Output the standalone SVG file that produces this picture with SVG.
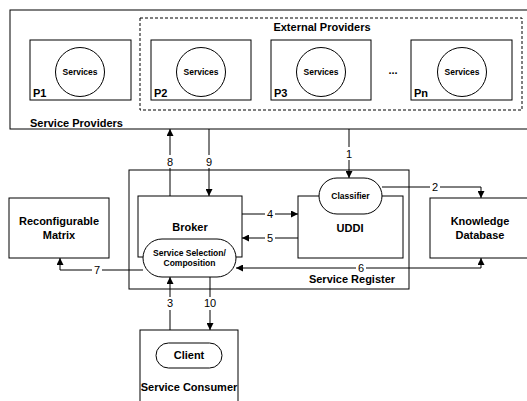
<svg xmlns="http://www.w3.org/2000/svg" width="527" height="401" viewBox="0 0 527 401">
<style>
.box{fill:#fff;stroke:#000;stroke-width:1}
.dash{fill:none;stroke:#000;stroke-width:1;stroke-dasharray:3,2}
.t{font-family:"Liberation Sans",Arial,sans-serif;font-weight:bold;font-size:11px;fill:#000}
.s{font-family:"Liberation Sans",Arial,sans-serif;font-weight:bold;font-size:8.5px;fill:#000}
.n{font-family:"Liberation Sans",Arial,sans-serif;font-size:11px;fill:#000}
.c{text-anchor:middle}
.ln{fill:none;stroke:#000;stroke-width:1}
.lbg{fill:#fff}
</style>
<defs>
<marker id="ah" viewBox="0 0 10 10" refX="10" refY="5" markerWidth="7" markerHeight="7" markerUnits="userSpaceOnUse" orient="auto-start-reverse">
<path d="M0,0 L10,5 L0,10 z" fill="#000"/>
</marker>
</defs>

<g id="service-providers">
<rect class="box" x="10" y="10" width="530" height="119"/>
<text class="t" x="30" y="127">Service Providers</text>
</g>
<g id="external-providers">
<rect class="dash" x="140" y="18" width="382" height="92"/>
<text class="t c" x="322" y="31">External Providers</text>
<text class="t c" x="393" y="74">...</text>
</g>
<g id="p1">
<rect class="box" x="30" y="40" width="101" height="60"/>
<circle class="box" cx="80" cy="72" r="24.5"/>
<text class="s c" x="80" y="75">Services</text>
<text class="t" x="33" y="97">P1</text>
</g>
<g id="p2">
<rect class="box" x="151" y="40" width="100" height="60"/>
<circle class="box" cx="201" cy="72" r="24.5"/>
<text class="s c" x="201" y="75">Services</text>
<text class="t" x="154" y="97">P2</text>
</g>
<g id="p3">
<rect class="box" x="271" y="40" width="100" height="60"/>
<circle class="box" cx="321" cy="72" r="24.5"/>
<text class="s c" x="321" y="75">Services</text>
<text class="t" x="274" y="97">P3</text>
</g>
<g id="pn">
<rect class="box" x="411" y="40" width="101" height="60"/>
<circle class="box" cx="462" cy="72" r="24.5"/>
<text class="s c" x="462" y="75">Services</text>
<text class="t" x="414" y="97">Pn</text>
</g>

<g id="service-register">
<rect class="box" x="129" y="170" width="280" height="119"/>
<text class="t c" x="352" y="283">Service Register</text>
</g>
<g id="broker">
<rect class="box" x="138" y="196" width="104" height="61"/>
<text class="t c" x="190" y="231">Broker</text>
</g>
<g id="uddi">
<rect class="box" x="298" y="196" width="105" height="62"/>
<text class="t c" x="350" y="232">UDDI</text>
</g>
<g id="classifier">
<rect class="box" x="319" y="178" width="63" height="36" rx="18" ry="18"/>
<text class="s c" x="350.5" y="199">Classifier</text>
</g>
<g id="service-selection">
<rect class="box" x="143" y="239" width="93" height="38" rx="19" ry="19"/>
<text class="s c" x="189.5" y="256">Service Selection/</text>
<text class="s c" x="189.5" y="266">Composition</text>
</g>
<g id="reconfigurable-matrix">
<rect class="box" x="9" y="198" width="100" height="60"/>
<text class="t c" x="59" y="225">Reconfigurable</text>
<text class="t c" x="59" y="239">Matrix</text>
</g>
<g id="knowledge-database">
<rect class="box" x="430" y="198" width="110" height="60"/>
<text class="t c" x="480" y="225">Knowledge</text>
<text class="t c" x="480" y="239">Database</text>
</g>
<g id="service-consumer">
<rect class="box" x="140" y="330" width="98" height="80"/>
<rect class="box" x="156" y="343" width="66" height="25" rx="12.5" ry="12.5"/>
<text class="t c" x="189" y="359">Client</text>
<text class="t c" x="189" y="391">Service Consumer</text>
</g>

<g id="connectors">
<path class="ln" d="M170,196 V129" marker-end="url(#ah)"/>
<path class="ln" d="M209,129 V196" marker-end="url(#ah)"/>
<path class="ln" d="M349,129 V178" marker-end="url(#ah)"/>
<path class="ln" d="M382,187 H481 V198" marker-end="url(#ah)"/>
<path class="ln" d="M242,214 H298" marker-end="url(#ah)"/>
<path class="ln" d="M298,238 H242" marker-end="url(#ah)"/>
<path class="ln" d="M236,268 H481 V258" marker-start="url(#ah)" marker-end="url(#ah)"/>
<path class="ln" d="M143,270 H60 V258" marker-end="url(#ah)"/>
<path class="ln" d="M170,330 V277" marker-end="url(#ah)"/>
<path class="ln" d="M210,277 V330" marker-end="url(#ah)"/>
<rect class="lbg" x="165" y="155" width="10" height="13"/>
<text class="n c" x="170" y="166">8</text>
<rect class="lbg" x="204" y="155" width="10" height="13"/>
<text class="n c" x="209" y="166">9</text>
<rect class="lbg" x="344" y="147" width="10" height="13"/>
<text class="n c" x="349" y="158">1</text>
<rect class="lbg" x="430" y="181" width="10" height="12"/>
<text class="n c" x="435" y="191">2</text>
<rect class="lbg" x="265" y="208" width="10" height="12"/>
<text class="n c" x="270" y="218">4</text>
<rect class="lbg" x="265" y="232" width="10" height="12"/>
<text class="n c" x="270" y="242">5</text>
<rect class="lbg" x="356" y="262" width="10" height="12"/>
<text class="n c" x="361" y="272">6</text>
<rect class="lbg" x="92" y="264" width="10" height="12"/>
<text class="n c" x="97" y="274">7</text>
<rect class="lbg" x="165" y="297" width="10" height="13"/>
<text class="n c" x="170" y="307">3</text>
<rect class="lbg" x="202" y="297" width="16" height="13"/>
<text class="n c" x="210" y="307">10</text>
</g>
</svg>
